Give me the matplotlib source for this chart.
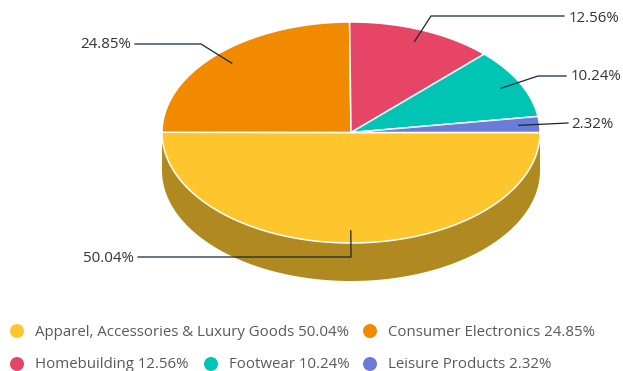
import numpy as np
import matplotlib
matplotlib.use('Agg')
import matplotlib.pyplot as plt
from matplotlib.patches import Polygon, Circle

categories = ['Apparel, Accessories & Luxury Goods', 'Consumer Electronics',
              'Homebuilding', 'Footwear', 'Leisure Products']
shares = [50.04, 24.85, 12.56, 10.24, 2.32]
slice_colors = ['#FFC52C', '#F28A00', '#E74566', '#00C5B4', '#6B7BD6']
side_color = '#B08A20'

CX, CY = 351, 132.5
RX, RY = 189, 110.5
DEPTH = 38

plt.rcParams['font.family'] = ['Open Sans', 'DejaVu Sans']

fig = plt.figure(figsize=(6.23, 3.71), dpi=100)
ax = fig.add_axes([0, 0, 1, 1])
ax.set_xlim(0, 623)
ax.set_ylim(371, 0)
ax.axis('off')


def rim(start, end, dy=0):
    t = np.radians(np.linspace(start, end, max(int(abs(end - start)) * 2, 2)))
    return np.column_stack([CX + RX * np.cos(t), CY + dy + RY * np.sin(t)])


# extruded wall below the front half
wall = np.vstack([rim(0, 180), rim(180, 0, DEPTH)])
ax.add_patch(Polygon(wall, closed=True, fc=side_color, ec='none', zorder=1))

# top face, clockwise from three o'clock
bounds = np.cumsum([0] + shares) / sum(shares) * 360
for i, color in enumerate(slice_colors):
    pts = np.vstack([[CX, CY], rim(bounds[i], bounds[i + 1])])
    ax.add_patch(Polygon(pts, closed=True, fc=color, ec='white', lw=1.1,
                         joinstyle='round', zorder=2))

# leader lines: elbow route and label anchor per slice
elbows = [[(351, 257), (138, 257)],
          [(201, 44), (135, 44)],
          [(431, 16), (564, 16)],
          [(538, 76), (566, 76)],
          [(568, 123)]]
label_pos = [(133.5, 258, 'right'), (131, 45, 'right'), (569, 18, 'left'),
             (571, 77, 'left'), (571, 125, 'left')]

for i, share in enumerate(shares):
    mid = np.radians((bounds[i] + bounds[i + 1]) / 2)
    start = (CX + 0.89 * RX * np.cos(mid), CY + 0.89 * RY * np.sin(mid))
    route = [start] + elbows[i]
    ax.plot([p[0] for p in route], [p[1] for p in route], color='#14263A',
            lw=0.9, solid_joinstyle='miter', zorder=3)
    x, y, ha = label_pos[i]
    ax.text(x, y, f'{share:.2f}%', ha=ha, va='center', fontsize=10.8,
            color='#333333', zorder=4)

# legend, two rows
legend_pos = [(17, 331), (370, 331), (17, 364), (211, 364), (370, 364)]
for (x, y), name, share, color in zip(legend_pos, categories, shares, slice_colors):
    ax.add_patch(Circle((x, y), 7, fc=color, ec='none', zorder=2))
    ax.text(x + 18, y + 1, f'{name} {share:.2f}%', ha='left', va='center',
            fontsize=10.8, color='#595959', zorder=4)

fig.savefig('out.png', dpi=100)
plt.close(fig)
